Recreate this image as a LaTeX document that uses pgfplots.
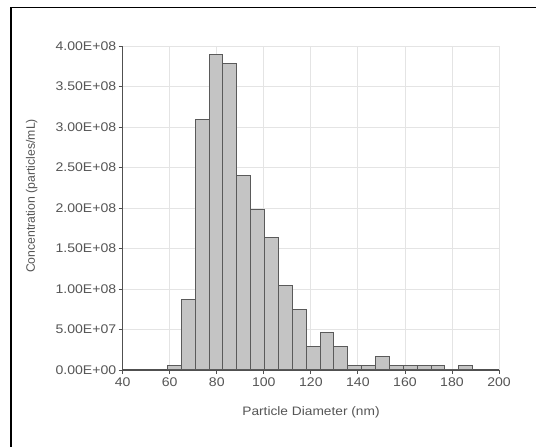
\documentclass[border=0pt]{standalone}
\usepackage{pgfplots}
\pgfplotsset{compat=1.18}
\usepackage{fontspec}
\setmainfont{Liberation Sans}[FakeStretch=1.12]
\newfontfamily\ylabfont{Liberation Sans}
\definecolor{txt}{HTML}{555555}
\definecolor{axl}{HTML}{505050}
\definecolor{grd}{HTML}{E4E4E4}
\definecolor{barfill}{HTML}{C4C4C4}
\definecolor{baredge}{HTML}{5A5A5A}
\begin{document}
\begin{tikzpicture}[x=1bp,y=1bp]
\useasboundingbox (0,0) rectangle (536,447);
\fill[white] (0,0) rectangle (536,447);
\draw[black, line width=1.8bp] (11,0) -- (11,439.5) -- (536,439.5);
\begin{axis}[
  at={(122.7bp,77bp)}, anchor=south west,
  scale only axis, width=376.3bp, height=324bp,
  xmin=40, xmax=200, ymin=0, ymax=4e8,
  axis lines*=left,
  axis line style={axl, line width=1.1bp},
  tick align=outside, major tick length=4bp,
  tick style={axl, line width=0.8bp},
  grid=major, major grid style={grd, line width=0.8bp},
  xtick={40,60,80,100,120,140,160,180,200},
  ytick={0,5e7,1e8,1.5e8,2e8,2.5e8,3e8,3.5e8,4e8},
  yticklabels={0.00E+00,5.00E+07,1.00E+08,1.50E+08,2.00E+08,2.50E+08,3.00E+08,3.50E+08,4.00E+08},
  scaled y ticks=false,
  /pgf/number format/assume math mode=true,
  ticklabel style={font=\fontsize{12.6}{14}\selectfont, text=txt},
  yticklabel style={xshift=1bp},
  xticklabel style={yshift=-0.5bp},
  clip=false,
]
\addplot[ybar interval, fill=barfill, draw=baredge, line width=1bp] coordinates {
(59.0,5.5e6)
(64.9,8.75e7)
(70.8,3.09e8)
(76.7,3.895e8)
(82.6,3.785e8)
(88.5,2.395e8)
(94.4,1.98e8)
(100.3,1.63e8)
(106.2,1.045e8)
(112.1,7.5e7)
(118.0,2.9e7)
(123.9,4.6e7)
(129.8,2.9e7)
(135.7,5.5e6)
(141.6,5.5e6)
(147.5,1.65e7)
(153.4,5.5e6)
(159.3,5.5e6)
(165.2,5.5e6)
(171.1,5.5e6)
(177.0,0)
(182.9,5.5e6)
(188.8,0)
};
\end{axis}
\node[text=txt, font=\fontsize{12.3}{14}\selectfont] at (311,35) {Particle Diameter (nm)};
\node[text=txt, font=\ylabfont\fontsize{12.3}{14}\selectfont, rotate=90] at (31.7,251) {Concentration (particles/mL)};
\end{tikzpicture}
\end{document}
